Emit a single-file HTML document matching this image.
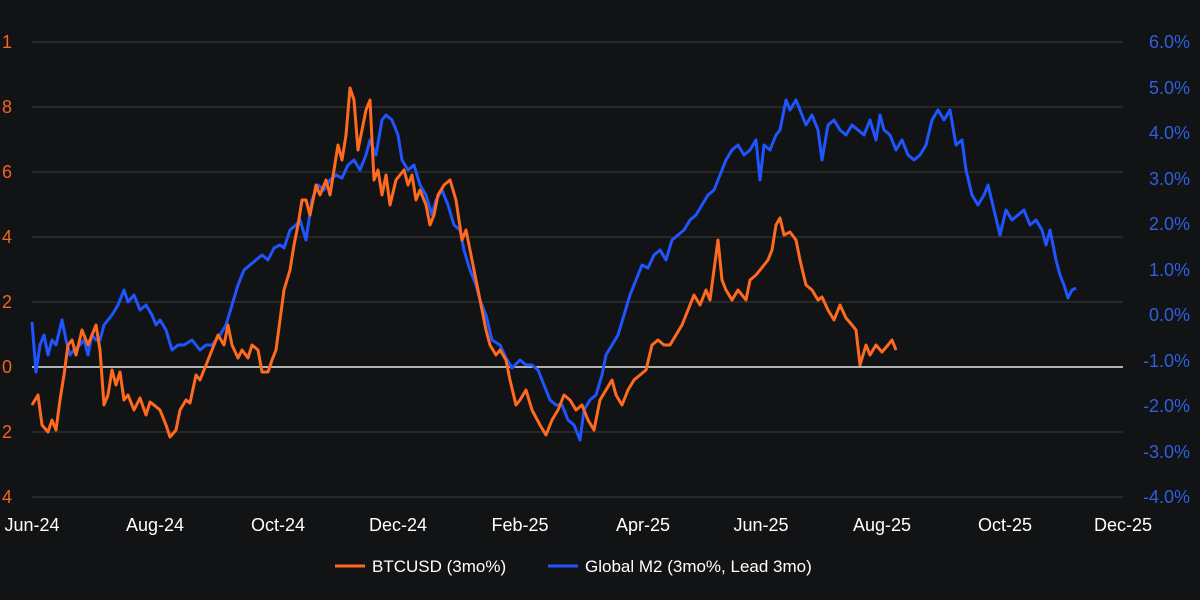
<!DOCTYPE html>
<html><head><meta charset="utf-8"><style>
html,body{margin:0;padding:0;background:#111315;}
svg{display:block;font-family:"Liberation Sans",sans-serif;}
</style></head><body>
<svg width="1200" height="600" viewBox="0 0 1200 600" xmlns="http://www.w3.org/2000/svg">
<rect width="1200" height="600" fill="#111315"/>
<g stroke="#3a3c3f" stroke-width="1">
<line x1="32" x2="1123" y1="42" y2="42"/><line x1="32" x2="1123" y1="107" y2="107"/>
<line x1="32" x2="1123" y1="172" y2="172"/><line x1="32" x2="1123" y1="237" y2="237"/>
<line x1="32" x2="1123" y1="302" y2="302"/><line x1="32" x2="1123" y1="432" y2="432"/>
<line x1="32" x2="1123" y1="497" y2="497"/>
</g>
<line x1="32" x2="1123" y1="367" y2="367" stroke="#e8e8e8" stroke-width="1.5"/>
<g fill="#f26522" font-size="18">
<text x="2" y="48">1</text><text x="2" y="113">8</text><text x="2" y="178">6</text><text x="2" y="243">4</text>
<text x="2" y="308">2</text><text x="2" y="373">0</text><text x="2" y="438">2</text><text x="2" y="503">4</text>
</g>
<g fill="#2f5fe0" font-size="18" text-anchor="end">
<text x="1190" y="48">6.0%</text><text x="1190" y="94">5.0%</text><text x="1190" y="139">4.0%</text>
<text x="1190" y="185">3.0%</text><text x="1190" y="230">2.0%</text><text x="1190" y="276">1.0%</text>
<text x="1190" y="321">0.0%</text><text x="1190" y="367">-1.0%</text><text x="1190" y="412">-2.0%</text>
<text x="1190" y="458">-3.0%</text><text x="1190" y="503">-4.0%</text>
</g>
<g fill="#ffffff" font-size="18" text-anchor="middle">
<text x="32" y="531">Jun-24</text><text x="155" y="531">Aug-24</text><text x="278" y="531">Oct-24</text>
<text x="398" y="531">Dec-24</text><text x="520" y="531">Feb-25</text><text x="643" y="531">Apr-25</text>
<text x="761" y="531">Jun-25</text><text x="882" y="531">Aug-25</text><text x="1005" y="531">Oct-25</text>
<text x="1123" y="531">Dec-25</text>
</g>
<polyline fill="none" stroke="#1f55ff" stroke-width="3" stroke-linejoin="round" points="32,322 36,372 40,345 44,335 48,355 52,340 56,345 62,320 66,340 70,355 74,350 80,345 84,340 88,355 92,335 96,340 100,340 104,325 108,320 112,315 118,305 124,290 128,302 134,295 140,310 146,305 152,315 156,325 160,320 166,330 172,350 178,345 184,345 192,340 200,350 206,345 212,345 220,335 226,325 232,305 238,285 244,270 250,265 256,260 262,255 268,260 274,248 280,245 284,248 290,230 296,225 300,220 306,240 312,200 318,185 324,190 330,180 336,175 342,178 348,165 354,160 360,170 366,155 370,140 376,155 382,120 386,115 392,120 398,135 402,160 408,170 414,165 420,185 426,195 432,215 436,200 442,190 448,205 454,225 460,230 464,250 470,270 476,285 480,300 486,315 492,340 500,345 506,358 512,368 520,360 526,365 532,365 538,370 544,385 550,400 556,405 562,405 568,420 574,425 580,440 584,410 590,400 596,395 602,375 606,355 612,345 618,335 624,315 630,295 636,280 642,265 648,268 654,255 660,250 666,260 672,240 678,235 684,230 690,220 696,215 702,205 708,195 714,190 720,175 726,160 732,150 738,145 744,155 750,150 756,140 760,180 764,145 770,150 776,135 780,130 786,100 790,110 796,100 800,110 806,125 812,115 818,130 822,160 828,125 834,120 840,130 846,135 852,125 858,130 864,135 870,120 876,140 880,115 884,130 890,135 896,150 902,140 908,155 914,160 920,155 926,145 932,120 938,110 944,120 950,110 956,145 962,140 966,170 972,195 978,205 984,195 988,185 994,210 1000,235 1006,210 1012,220 1018,215 1024,210 1030,225 1036,220 1042,230 1046,245 1050,230 1056,260 1060,275 1064,285 1068,298 1072,290 1076,288"/>
<polyline fill="none" stroke="#ff6a1f" stroke-width="3" stroke-linejoin="round" points="32,405 38,395 42,425 48,432 52,420 56,430 60,400 64,375 68,345 72,340 76,355 82,330 88,345 92,335 96,325 100,350 104,405 108,395 112,370 116,385 120,372 124,400 128,395 134,410 140,398 146,415 150,402 154,405 160,410 166,425 170,437 176,430 180,410 186,400 190,403 196,375 200,380 206,365 212,350 218,335 224,345 228,325 232,345 238,358 242,350 248,358 252,345 258,350 262,372 268,372 272,360 276,350 280,320 284,290 290,270 294,245 298,225 302,200 306,200 310,215 316,185 320,195 326,180 330,195 334,170 338,145 342,160 346,135 350,88 354,100 358,150 362,130 366,110 370,100 374,180 378,170 382,195 386,175 390,205 396,180 400,175 404,170 408,185 412,175 416,200 420,190 426,205 430,225 434,215 438,195 444,185 450,180 456,200 462,240 466,230 470,250 476,280 480,300 486,330 490,345 496,355 500,350 506,360 510,380 516,405 520,400 526,390 532,410 540,425 546,435 552,420 558,410 564,395 570,400 576,410 582,405 588,420 594,430 600,400 606,390 612,380 616,395 622,405 628,390 634,380 640,375 646,370 652,345 658,340 664,345 670,345 676,335 682,325 688,310 694,295 700,305 706,290 710,300 714,270 718,240 722,280 726,290 732,300 738,290 742,295 746,300 750,280 756,275 760,270 764,265 768,260 772,250 776,225 780,218 784,235 790,232 796,240 800,260 806,285 812,290 818,300 822,297 828,310 834,320 840,305 846,318 852,325 856,330 860,365 866,345 870,355 876,345 882,352 888,345 892,340 896,350"/>
<line x1="335" x2="365" y1="566" y2="566" stroke="#ff6a1f" stroke-width="3"/>
<text x="372" y="572" fill="#ffffff" font-size="17">BTCUSD (3mo%)</text>
<line x1="548" x2="578" y1="566" y2="566" stroke="#1f55ff" stroke-width="3"/>
<text x="585" y="572" fill="#ffffff" font-size="17">Global M2 (3mo%, Lead 3mo)</text>
</svg>
</body></html>
